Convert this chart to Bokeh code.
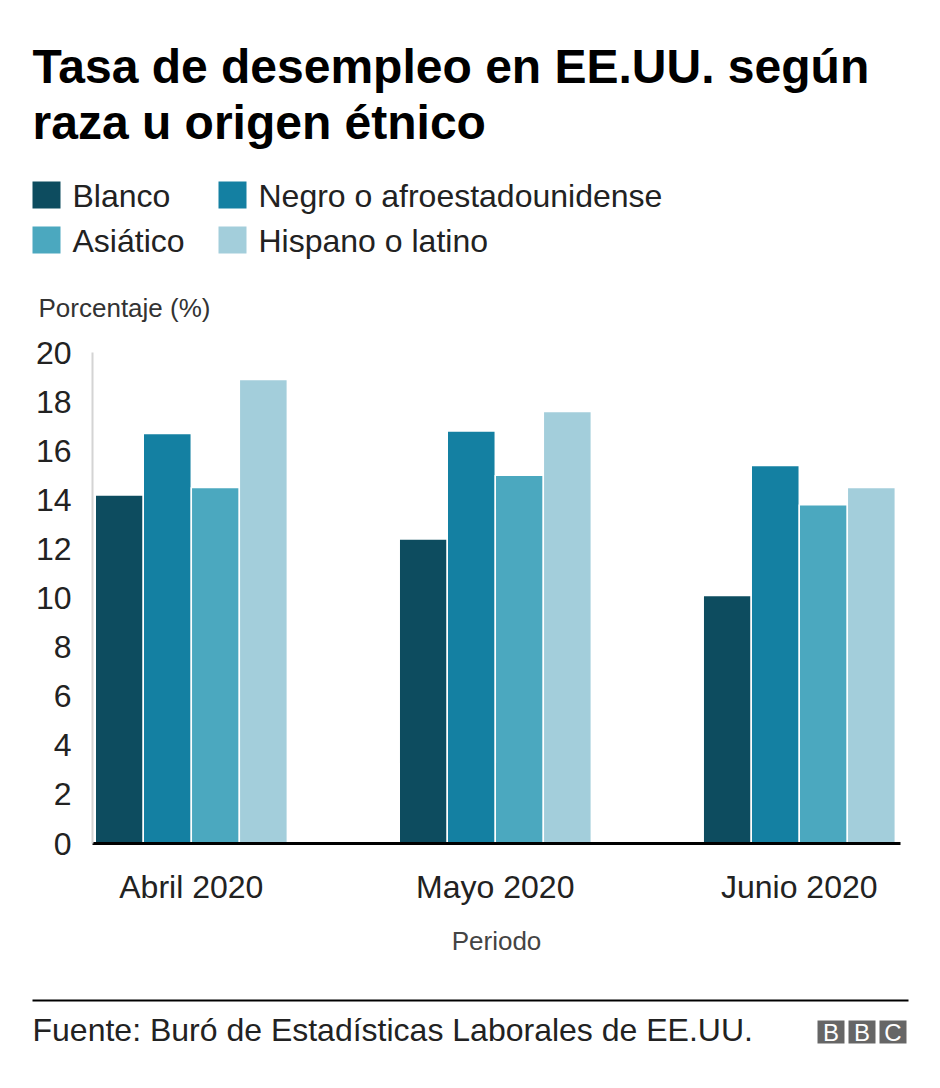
from bokeh.plotting import figure
from bokeh.layouts import column
from bokeh.models import (Range1d, Label, FixedTicker, ColumnDataSource, BoxAnnotation)
from bokeh.transform import dodge
from bokeh.embed import file_html
from bokeh.resources import INLINE

# ---------------- data ----------------
periods = ["Abril 2020", "Mayo 2020", "Junio 2020"]
groups = ["Blanco", "Negro o afroestadounidense", "Asiático", "Hispano o latino"]
blanco = [14.2, 12.4, 10.1]
negro = [16.7, 16.8, 15.4]
asiatico = [14.5, 15.0, 13.8]
hispano = [18.9, 17.6, 14.5]
y_ticks = [0, 2, 4, 6, 8, 10, 12, 14, 16, 18, 20]

title_lines = ["Tasa de desempleo en EE.UU. según", "raza u origen étnico"]
y_title = "Porcentaje (%)"
x_title = "Periodo"
source_text = "Fuente: Buró de Estadísticas Laborales de EE.UU."
logo_letters = ["B", "B", "C"]

colors = ["#0d4c5f", "#1480a2", "#4ba8bf", "#a3cedb"]
FONT = "Liberation Sans"
W = 924
H_HEAD, H_MAIN, H_FOOT = 332, 640, 100
Y_MAIN = H_HEAD
Y_FOOT = H_HEAD + H_MAIN
BASE_FIX = 12  # compensation for the alphabetic baseline placement of labels


def blank_fig(h):
    f = figure(width=W, height=h, x_range=Range1d(0, 1), y_range=Range1d(0, 1),
               x_axis_type=None, y_axis_type=None, output_backend="svg",
               toolbar_location=None, min_border=0, frame_align=False)
    f.outline_line_color = None
    f.xgrid.visible = False
    f.ygrid.visible = False
    return f


def add_label(fig, h, y0, text, x, y_page, size, style="normal", color="#000000",
              align="left", baseline="alphabetic"):
    if baseline == "alphabetic":
        y_page = y_page - BASE_FIX
    fig.add_layout(Label(x=x, y=h - (y_page - y0), x_units="screen", y_units="screen",
                         text=text, text_font=FONT, text_font_size=size,
                         text_font_style=style, text_color=color, text_align=align,
                         text_baseline=baseline))


def add_box(fig, h, y0, left, right, top_page, bottom_page, color):
    fig.add_layout(BoxAnnotation(left=left, right=right,
                                 top=h - (top_page - y0), bottom=h - (bottom_page - y0),
                                 left_units="screen", right_units="screen",
                                 top_units="screen", bottom_units="screen",
                                 fill_color=color, fill_alpha=1, line_color=None))


# ---------------- header: title + legend ----------------
head = blank_fig(H_HEAD)
add_label(head, H_HEAD, 0, title_lines[0], 32, 78, "48px", style="bold")
add_label(head, H_HEAD, 0, title_lines[1], 32, 134, "48px", style="bold")
add_label(head, H_HEAD, 0, y_title, 38, 319, "26px", color="#333333")

# legend: two columns, two rows (order: Blanco, Negro / Asiático, Hispano)
legend_cols_x = [32, 218]
legend_rows_y = [181, 226]
for k, name in enumerate(groups):
    cx = legend_cols_x[k % 2]
    ry = legend_rows_y[k // 2]
    add_box(head, H_HEAD, 0, cx, cx + 28, ry, ry + 27, colors[k])
    add_label(head, H_HEAD, 0, name, cx + 40, ry + 26, "32px", color="#222222")

# ---------------- main chart ----------------
p = figure(width=W, height=H_MAIN, x_range=Range1d(-0.325, 2.333), y_range=Range1d(0, 20),
           output_backend="svg", toolbar_location=None, frame_align=False,
           min_border_left=92, min_border_right=24, min_border_top=20, min_border_bottom=129)
p.outline_line_color = None
p.xgrid.visible = False
p.ygrid.visible = False

src = ColumnDataSource(dict(x=list(range(len(periods))), blanco=blanco, negro=negro,
                            asiatico=asiatico, hispano=hispano))
bw = 0.158
fields = ["blanco", "negro", "asiatico", "hispano"]
for i, f in enumerate(fields):
    p.vbar(x=dodge("x", (i - 1.5) * bw, range=p.x_range), top=f, width=bw, source=src,
           fill_color=colors[i], line_color="white", line_width=1.5, name=groups[i])

p.xaxis.ticker = FixedTicker(ticks=list(range(len(periods))))
p.xaxis.major_label_overrides = {i: periods[i] for i in range(len(periods))}
p.xaxis.axis_line_color = "black"
p.xaxis.axis_line_width = 3
p.xaxis.major_tick_line_color = None
p.xaxis.minor_tick_line_color = None
p.xaxis.major_tick_out = 0
p.xaxis.major_label_text_font = FONT
p.xaxis.major_label_text_font_size = "32px"
p.xaxis.major_label_text_color = "#222222"
p.xaxis.major_label_standoff = 25
p.xaxis.axis_label = x_title
p.xaxis.axis_label_text_font = FONT
p.xaxis.axis_label_text_font_size = "26px"
p.xaxis.axis_label_text_font_style = "normal"
p.xaxis.axis_label_text_color = "#444444"
p.xaxis.axis_label_standoff = 18

p.yaxis.ticker = FixedTicker(ticks=y_ticks)
p.yaxis.axis_line_color = "#d4d4d4"
p.yaxis.axis_line_width = 2
p.yaxis.major_tick_line_color = None
p.yaxis.minor_tick_line_color = None
p.yaxis.major_tick_out = 0
p.yaxis.major_label_text_font = FONT
p.yaxis.major_label_text_font_size = "32px"
p.yaxis.major_label_text_color = "#222222"
p.yaxis.major_label_standoff = 21

# ---------------- footer ----------------
foot = blank_fig(H_FOOT)
add_box(foot, H_FOOT, Y_FOOT, 32, 908, 999, 1001, "black")
add_label(foot, H_FOOT, Y_FOOT, source_text, 32, 1041, "32px", color="#222222")
for k, letter in enumerate(logo_letters):
    x0 = 817 + k * 31
    add_box(foot, H_FOOT, Y_FOOT, x0, x0 + 27, 1020, 1043, "#666666")
    add_label(foot, H_FOOT, Y_FOOT, letter, x0 + 13.5, 1032, "24px", style="normal",
              color="white", align="center", baseline="middle")

layout = column(head, p, foot, spacing=0)
open("out.html", "w").write(file_html(layout, INLINE))
